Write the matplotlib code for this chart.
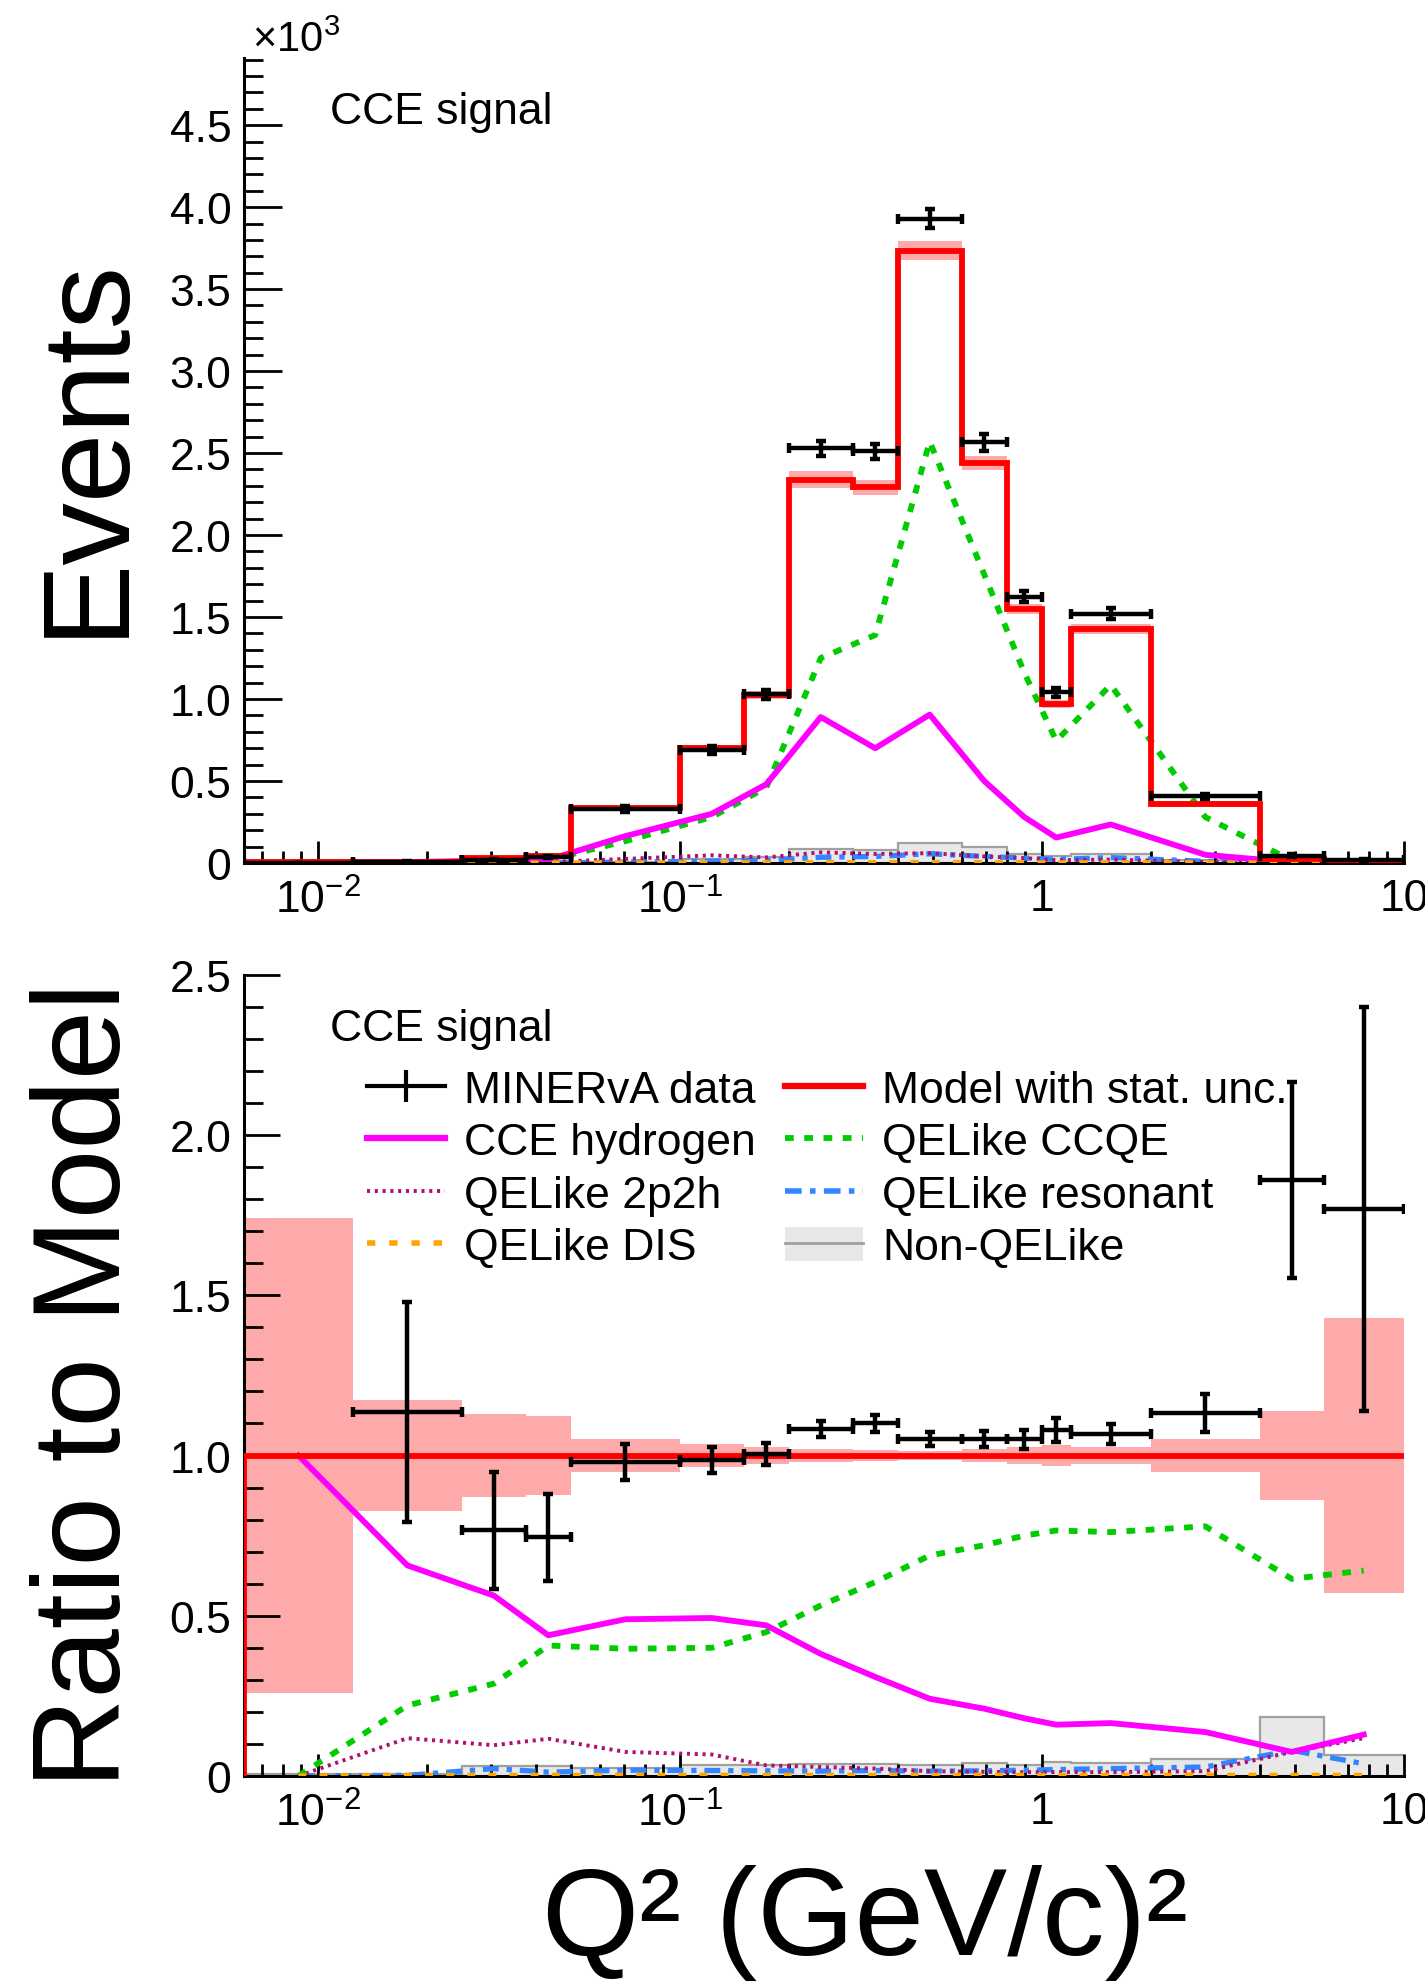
"""CCE signal Q^2 distribution (top) and ratio to model (bottom)."""
import numpy as np
import matplotlib
matplotlib.use("Agg")
import matplotlib.pyplot as plt
from matplotlib.lines import Line2D
from matplotlib.patches import Patch
from matplotlib.ticker import FuncFormatter, LogLocator, MultipleLocator, NullFormatter

plt.rcParams.update({
    "font.family": ["Liberation Sans", "DejaVu Sans"],
    "mathtext.fontset": "custom",
    "mathtext.rm": "Liberation Sans",
    "mathtext.it": "Liberation Sans:italic",
    "mathtext.bf": "Liberation Sans:bold",
})

# ---------- data (Q^2 bins in (GeV/c)^2, events in units of 10^3) ----------
edges = np.array([0.00625, 0.0125, 0.025, 0.0375, 0.05, 0.1, 0.15, 0.2, 0.3,
                  0.4, 0.6, 0.8, 1.0, 1.2, 2.0, 4.0, 6.0, 10.0])

model_evt = [0.004, 0.007, 0.028, 0.045, 0.335, 0.700, 1.026, 2.338, 2.290,
             3.735, 2.440, 1.550, 0.972, 1.427, 0.360, 0.024, 0.011]
model_evt_err = [0.003, 0.003, 0.004, 0.006, 0.015, 0.020, 0.025, 0.050, 0.045,
                 0.060, 0.045, 0.030, 0.025, 0.030, 0.020, 0.004, 0.005]
data_evt = [0.000, 0.008, 0.021, 0.034, 0.328, 0.690, 1.028, 2.530, 2.510,
            3.930, 2.565, 1.625, 1.040, 1.520, 0.408, 0.044, 0.019]
data_evt_err = [0.003, 0.004, 0.005, 0.006, 0.019, 0.025, 0.030, 0.045, 0.045,
                0.060, 0.050, 0.035, 0.030, 0.035, 0.015, 0.008, 0.007]

hydrogen_evt = [0.004, 0.005, 0.016, 0.020, 0.164, 0.300, 0.480, 0.890, 0.700,
                0.905, 0.500, 0.280, 0.155, 0.235, 0.050, 0.005, 0.002]
ccqe_evt = [0.000, 0.0015, 0.008, 0.018, 0.133, 0.280, 0.460, 1.250, 1.390,
            2.570, 1.760, 1.160, 0.745, 1.086, 0.280, 0.015, 0.007]
twop2h_evt = [0.000, 0.001, 0.003, 0.005, 0.025, 0.047, 0.034, 0.065, 0.055,
              0.060, 0.040, 0.030, 0.017, 0.021, 0.006, 0.002, 0.001]
res_evt = [0.000, 0.000, 0.0006, 0.0005, 0.006, 0.011, 0.016, 0.035, 0.040,
           0.056, 0.040, 0.030, 0.022, 0.033, 0.010, 0.002, 0.0004]
dis_evt = [0.000, 0.000, 0.000, 0.000, 0.0005, 0.001, 0.001, 0.002, 0.002,
           0.003, 0.002, 0.002, 0.001, 0.002, 0.001, 0.000, 0.000]
nonqe_evt = [0.000, 0.000, 0.001, 0.001, 0.009, 0.023, 0.034, 0.084, 0.082,
             0.123, 0.098, 0.054, 0.043, 0.057, 0.019, 0.004, 0.001]

# ratio to model
model_ratio = [1.0] * 17
model_ratio_err = [0.742, 0.172, 0.130, 0.124, 0.050, 0.035, 0.028, 0.020, 0.018,
                   0.014, 0.020, 0.026, 0.032, 0.027, 0.050, 0.140, 0.430]
data_ratio = [np.nan, 1.137, 0.766, 0.745, 0.979, 0.986, 1.005, 1.083, 1.100,
              1.052, 1.052, 1.050, 1.080, 1.068, 1.133, 1.860, 1.770]
data_ratio_err = [np.nan, 0.343, 0.182, 0.136, 0.056, 0.040, 0.035, 0.026, 0.027,
                  0.021, 0.025, 0.030, 0.038, 0.031, 0.060, 0.306, 0.630]
hydrogen_ratio = [1.000, 0.657, 0.563, 0.439, 0.489, 0.493, 0.470, 0.381, 0.309,
                  0.241, 0.210, 0.180, 0.160, 0.165, 0.137, 0.075, 0.129]
ccqe_ratio = [0.000, 0.220, 0.288, 0.407, 0.397, 0.400, 0.449, 0.532, 0.605,
              0.688, 0.720, 0.750, 0.766, 0.761, 0.779, 0.615, 0.641]
twop2h_ratio = [0.000, 0.118, 0.096, 0.116, 0.075, 0.067, 0.033, 0.028, 0.023,
                0.015, 0.013, 0.012, 0.012, 0.012, 0.015, 0.075, 0.118]
res_ratio = [0.000, 0.002, 0.023, 0.012, 0.018, 0.017, 0.016, 0.015, 0.017,
             0.015, 0.016, 0.018, 0.020, 0.023, 0.028, 0.080, 0.038]
dis_ratio = [0.000, 0.002, 0.002, 0.002, 0.002, 0.002, 0.002, 0.002, 0.002,
             0.002, 0.002, 0.002, 0.002, 0.002, 0.002, 0.002, 0.002]
nonqe_ratio = [0.005, 0.007, 0.030, 0.030, 0.026, 0.033, 0.033, 0.036, 0.036,
               0.033, 0.040, 0.035, 0.044, 0.040, 0.052, 0.184, 0.066]

legend_labels = ["MINERvA data", "CCE hydrogen", "QELike 2p2h", "QELike DIS",
                 "Model with stat. unc.", "QELike CCQE", "QELike resonant", "Non-QELike"]

# ---------- style ----------
RED, PINK = "#ff0000", "#ffaaaa"
MAGENTA, GREEN = "#ff00ff", "#00cc00"
C2P2H, BLUE, ORANGE = "#b0106e", "#3385ff", "#ffa500"
GRAY_FILL, GRAY_LINE = "#e8e8e8", "#a0a0a0"
FS = 32
BIG = 90
LS_CCQE = (0, (1.5, 1.8))
LS_2P2H = (0, (0.8, 1.2))
LS_RES = (0, (3, 1.5, 1, 1.5))
LS_DIS = (0, (1.5, 2.5))

centers = np.sqrt(edges[:-1] * edges[1:])
xlo = centers - edges[:-1]
xhi = edges[1:] - centers


def draw_panel(ax, model, model_err, data, data_err, comps, nonqe):
    model = np.asarray(model)
    model_err = np.asarray(model_err)
    ax.stairs(model + model_err, edges, baseline=model - model_err,
              fill=True, color=PINK, lw=0, zorder=1)
    ax.stairs(nonqe, edges, baseline=0, fill=True, facecolor=GRAY_FILL,
              edgecolor="none", zorder=1.2)
    ax.stairs(nonqe, edges, baseline=None, color=GRAY_LINE, lw=1.6, zorder=1.3)
    hyd, ccqe, p2h, res, dis = comps
    ax.plot(centers, res, color=BLUE, lw=3.8, ls=LS_RES, zorder=2)
    ax.plot(centers, p2h, color=C2P2H, lw=2.8, ls=LS_2P2H, zorder=2)
    ax.plot(centers, ccqe, color=GREEN, lw=4.2, ls=LS_CCQE, zorder=2)
    ax.plot(centers, hyd, color=MAGENTA, lw=4.2, zorder=2.2)
    ax.plot(centers, dis, color=ORANGE, lw=3.8, ls=LS_DIS, zorder=2.6)
    ax.stairs(model, edges, baseline=None, color=RED, lw=4.2, zorder=3)
    ax.vlines(edges[0], 0, model[0], color=RED, lw=4.2, zorder=3)
    ax.errorbar(centers, data, xerr=[xlo, xhi], yerr=data_err, fmt="none",
                ecolor="black", elinewidth=3.2, capsize=3.5, capthick=3.2, zorder=4)


def style_axes(ax, ymax, ymajor_len, yminor_len):
    ax.set_xscale("log")
    ax.set_xlim(edges[0], edges[-1])
    ax.set_ylim(0, ymax)
    for side in ("top", "right"):
        ax.spines[side].set_visible(False)
    for side in ("left", "bottom"):
        ax.spines[side].set_linewidth(2.2)
    ax.xaxis.set_major_locator(LogLocator(base=10))
    ax.xaxis.set_minor_locator(LogLocator(base=10, subs=np.arange(2, 10)))
    ax.xaxis.set_minor_formatter(NullFormatter())
    ax.xaxis.set_major_formatter(FuncFormatter(
        lambda v, p: f"{int(round(v))}" if v >= 1 else rf"10$^{{{int(round(np.log10(v)))}}}$"))
    ax.yaxis.set_major_locator(MultipleLocator(0.5))
    ax.yaxis.set_minor_locator(MultipleLocator(0.1))
    ax.yaxis.set_major_formatter(FuncFormatter(lambda v, p: "0" if abs(v) < 1e-9 else f"{v:.1f}"))
    ax.tick_params(axis="x", which="major", direction="in", length=16, width=2, pad=11, labelsize=FS)
    ax.tick_params(axis="x", which="minor", direction="in", length=8.5, width=2)
    ax.tick_params(axis="y", which="major", direction="in", length=ymajor_len, width=2, pad=9, labelsize=FS)
    ax.tick_params(axis="y", which="minor", direction="in", length=yminor_len, width=2)


fig = plt.figure(figsize=(14.25, 19.83), dpi=100)
ax1 = fig.add_axes([0.1712, 0.5643, 0.8140, 0.4060])
ax2 = fig.add_axes([0.1712, 0.1039, 0.8140, 0.4040])

# ---------- top: events ----------
draw_panel(ax1, model_evt, model_evt_err, data_evt, data_evt_err,
           (hydrogen_evt, ccqe_evt, twop2h_evt, res_evt, dis_evt), nonqe_evt)
style_axes(ax1, 4.91, 27, 13.5)
ax1.text(0.0742, 0.933, "CCE signal", transform=ax1.transAxes, fontsize=FS,
         ha="left", va="center")
fig.text(252 / 1425, 1 - 52 / 1983, r"$\times$10$^{3}$", fontsize=30,
         ha="left", va="baseline")

# ---------- bottom: ratio ----------
draw_panel(ax2, model_ratio, model_ratio_err, data_ratio, data_ratio_err,
           (hydrogen_ratio, ccqe_ratio, twop2h_ratio, res_ratio, dis_ratio), nonqe_ratio)
style_axes(ax2, 2.5, 26, 13.5)
ax2.text(0.0742, 0.933, "CCE signal", transform=ax2.transAxes, fontsize=FS,
         ha="left", va="center")

handles = [
    Line2D([], [], color="black", lw=3, marker="|", markersize=23, mew=3),
    Line2D([], [], color=MAGENTA, lw=4.5),
    Line2D([], [], color=C2P2H, lw=2.8, ls=LS_2P2H),
    Line2D([], [], color=ORANGE, lw=4, ls=LS_DIS),
    Line2D([], [], color=RED, lw=4.5),
    Line2D([], [], color=GREEN, lw=4.2, ls=LS_CCQE),
    Line2D([], [], color=BLUE, lw=4, ls=LS_RES),
    (Patch(facecolor=GRAY_FILL, edgecolor="none"), Line2D([], [], color=GRAY_LINE, lw=2)),
]
ax2.legend(handles, legend_labels, ncol=2, loc="upper left",
           bbox_to_anchor=(0.1058, 0.882), frameon=False, fontsize=FS,
           borderpad=0, borderaxespad=0, handlelength=1.76, handletextpad=0.43,
           columnspacing=0.65, labelspacing=0.25, handleheight=0.8)

# ---------- axis titles ----------
fig.text(120 / 1425, 1 - 446 / 1983, "Events", fontsize=BIG, rotation=90,
         ha="center", va="baseline", rotation_mode="anchor")
fig.text(120 / 1425, 1 - 1385 / 1983, "Ratio to Model", fontsize=BIG, rotation=90,
         ha="center", va="baseline", rotation_mode="anchor")
fig.text(1188 / 1425, 1 - 1955 / 1983, "Q\u00b2 (GeV/c)\u00b2", fontsize=BIG,
         ha="right", va="baseline")

fig.savefig("out.png", dpi=100, facecolor="white")
